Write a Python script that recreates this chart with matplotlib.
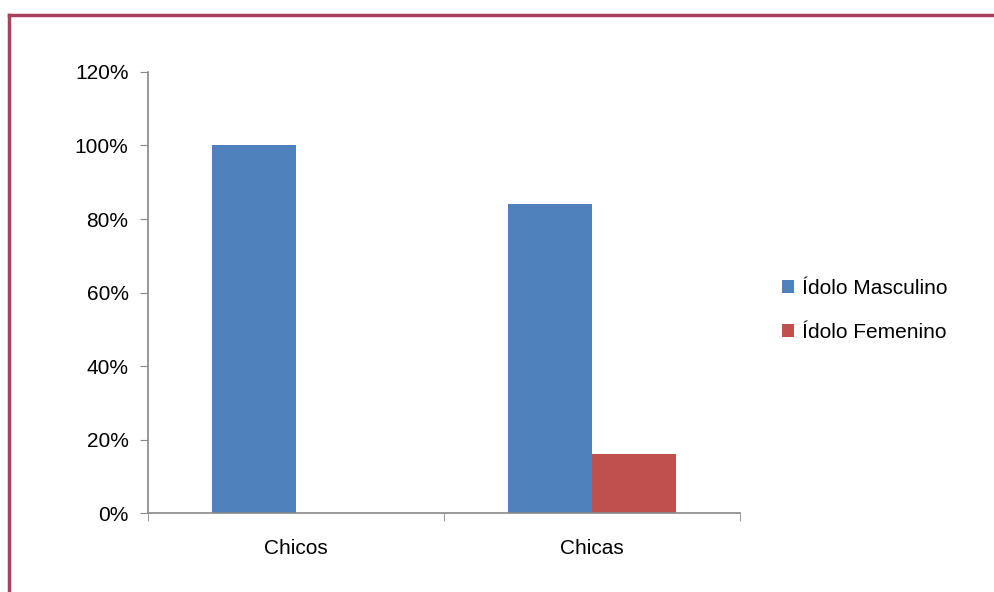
import numpy as np
import matplotlib.pyplot as plt
from matplotlib.lines import Line2D

categorias = ['Chicos', 'Chicas']
masculino = [100, 84]
femenino = [0, 16]
series = ['Ídolo Masculino', 'Ídolo Femenino']
colores = ['#4F81BD', '#C0504D']

plt.rcParams['font.family'] = ['Liberation Sans', 'DejaVu Sans']
tam = 15

fig = plt.figure(figsize=(9.95, 5.92), dpi=100)
ax = fig.add_axes([0.1487, 0.1334, 0.595, 0.745])

x = np.arange(len(categorias))
w = 0.284
ax.bar(x - w / 2, masculino, w, color=colores[0], label=series[0])
ax.bar(x + w / 2, femenino, w, color=colores[1], label=series[1])

ax.set_xlim(-0.5, len(categorias) - 0.5)
ax.set_ylim(0, 120)
ax.set_yticks(np.arange(0, 121, 20))
ax.set_yticklabels([f'{v}%' for v in range(0, 121, 20)])
ax.set_xticks(x)
ax.set_xticklabels(categorias)
ax.set_xticks(np.arange(-0.5, len(categorias), 1), minor=True)
ax.tick_params(axis='x', which='major', length=0, pad=19, labelsize=tam)
ax.tick_params(axis='x', which='minor', length=6, color='#888888')
ax.tick_params(axis='y', length=6, color='#888888', labelsize=tam, pad=8)

for s in ['top', 'right']:
    ax.spines[s].set_visible(False)
for s in ['left', 'bottom']:
    ax.spines[s].set_color('#888888')
    ax.spines[s].set_linewidth(1.2)

ax.legend(loc='center left', bbox_to_anchor=(1.04, 0.46), frameon=False,
          fontsize=tam, handlelength=0.55, handleheight=0.55, handletextpad=0.4,
          labelspacing=1.2)

# marco granate
fig.add_artist(Line2D([0.0095, 1.0], [1 - 15 / 592] * 2, color='#A8405F', lw=2.5))
fig.add_artist(Line2D([0.0095, 0.0095], [0, 1 - 15 / 592], color='#A8405F', lw=2.5))

fig.savefig('out.png', dpi=100)
